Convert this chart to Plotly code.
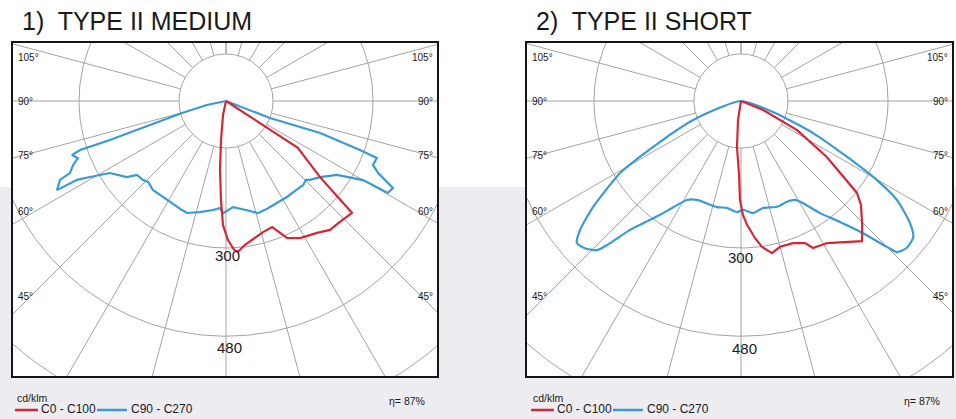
import numpy as np
import plotly.graph_objects as go

# ---------------- data: photometric curves (gamma = degrees from nadir, intensity in cd/klm) ----
medium_c0_gamma = [0, -12.1, -7.3, -5.0, -2.9, -1.4, 0.8, 3.1, 4.5, 7.5, 15.8, 20.1, 24.0, 28.4,
                   34.6, 38.9, 43.3, 48.4, 51.0, 56.9, 57.0]
medium_c0_cd = [0, 29, 80, 141, 202, 253, 284, 304, 309, 296, 278, 274, 306, 318,
                327, 338, 339, 344, 247, 175, 0]

medium_c90_gamma = [-90, -78.1, -74.7, -72.5, -71.4, -71.4, -70.7, -68.9, -67.3, -65.2, -64.6, -62.2,
                    -62.1, -60.8, -58.2, -52.5, -50.3, -46.4, -43.9, -39.4, -30.8, -22.0, -19.2,
                    -13.2, -6.8, -3.2, -1.5, 3.8, 10.9, 15.9, 21.4, 32.4, 40.7, 42.5, 45.4, 46.8,
                    51.0, 56.3, 60.0, 60.4, 62.5, 64.7, 66.5, 69.3, 69.9, 71.2, 68.9, 90]
medium_c90_cd = [0, 40, 93, 163, 250, 314, 333, 324, 338, 351, 375, 390,
                 344, 318, 279, 255, 236, 234, 229, 235, 235, 240, 242,
                 233, 224, 219, 229, 217, 227, 238, 235, 232, 232, 233, 229, 235,
                 247, 272, 323, 380, 384, 343, 327, 329, 291, 203, 96, 0]

short_c0_gamma = [0, -9.0, -5.0, -1.5, -0.6, 1.0, 2.8, 5.8, 8.2, 11.5, 15.0, 20.1, 24.3, 26.1,
                  31.2, 36.4, 40.8, 44.3, 49.1, 51.6, 56.9, 62.6, 67.8, 90]
short_c0_cd = [0, 39, 94, 151, 202, 233, 253, 281, 301, 317, 308, 309, 318, 334,
               339, 358, 378, 354, 324, 302, 209, 129, 49, 0]

short_c90_gamma = [-90, -68.4, -62.4, -59.2, -54.4, -51.3, -49.1, -46.7, -44.0, -42.9, -40.7, -35.4,
                   -28.6, -24.0, -12.8, -7.5, -2.1, 1.1, 6.1, 11.6, 18.8, 24.5, 28.6, 31.3, 35.2,
                   39.3, 42.7, 45.0, 45.9, 48.5, 51.7, 54.2, 57.6, 59.8, 62.2, 66.0, 71.0, 90]
short_c90_cd = [0, 105, 203, 287, 371, 421, 443, 438, 423, 401, 347, 285,
                230, 221, 222, 220, 227, 222, 230, 223, 228, 226, 230, 244, 280,
                319, 367, 421, 443, 452, 448, 425, 377, 321, 245, 161, 69, 0]

ring_cd = [300, 480, 660]          # intensity circles
hole_cd = 96                       # blank centre circle
spoke_angles = list(range(-180, 181, 15))
ring_labels = ["300", "480"]
angle_labels = ["105°", "90°", "75°", "60°", "45°"]
titles = ["1)  TYPE II MEDIUM", "2)  TYPE II SHORT"]
series_names = ["C0 - C100", "C90 - C270"]
unit_label = "cd/klm"
efficiency_label = "η= 87%"

# ---------------- layout geometry (pixels) ----------------
W, H = 956, 419
S = 0.49                      # px per cd/klm
Y0, Y1, CY = 43, 376, 101     # box top / bottom, luminaire centre
panels = [dict(x0=13, x1=437, cx=226, leg=15, shape="linear",
               c0=(medium_c0_gamma, medium_c0_cd), c90=(medium_c90_gamma, medium_c90_cd),
               ring_lab=[(227, 255), (229, 347)]),
          dict(x0=527, x1=952, cx=741, leg=531, shape="spline",
               c0=(short_c0_gamma, short_c0_cd), c90=(short_c90_gamma, short_c90_cd),
               ring_lab=[(740, 257), (744, 348)])]
label_y = [58, 101, 155, 212, 296]

RED = "#d22838"
BLUE = "#3a9ad3"
GRID = "#a3a3a3"
TXT = "#1a1a1a"
FONT = "Liberation Sans, Arial, sans-serif"


def px(x):
    return x / W


def py(y):
    return 1 - y / H


def to_xy(g, r):
    g = np.radians(np.asarray(g, float))
    r = np.asarray(r, float)
    return r * np.sin(g), -r * np.cos(g)


fig = go.Figure()
shapes = []
annotations = []

# background: white top, light grey lower band
shapes.append(dict(type="rect", xref="paper", yref="paper", x0=0, x1=1, y0=0, y1=py(187),
                   fillcolor="#ececf1", line=dict(width=0), layer="below"))

for i, p in enumerate(panels):
    xa = "x" if i == 0 else "x2"
    ya = "y" if i == 0 else "y2"
    # white plot area
    shapes.append(dict(type="rect", xref="paper", yref="paper", x0=px(p["x0"]), x1=px(p["x1"]),
                       y0=py(Y1), y1=py(Y0), fillcolor="white", line=dict(width=0), layer="below"))

    th = np.linspace(0, 2 * np.pi, 361)
    # circles
    gx, gy = [], []
    for rv in [hole_cd] + ring_cd:
        gx += list(rv * np.cos(th)) + [None]
        gy += list(rv * np.sin(th)) + [None]
    # spokes
    for a in spoke_angles:
        sx, sy = to_xy([a, a], [hole_cd, 1500])
        gx += list(sx) + [None]
        gy += list(sy) + [None]
    fig.add_trace(go.Scatter(x=gx, y=gy, mode="lines", line=dict(color=GRID, width=1),
                             xaxis=xa, yaxis=ya, hoverinfo="skip", showlegend=False))

    bx, by = to_xy(*p["c90"])
    fig.add_trace(go.Scatter(x=bx, y=by, mode="lines",
                             line=dict(color=BLUE, width=2.2, shape=p["shape"], smoothing=0.6),
                             xaxis=xa, yaxis=ya, name=series_names[1], showlegend=False))
    rx, ry = to_xy(*p["c0"])
    fig.add_trace(go.Scatter(x=rx, y=ry, mode="lines", line=dict(color=RED, width=2.2),
                             xaxis=xa, yaxis=ya, name=series_names[0], showlegend=False))

    axis_common = dict(showgrid=False, zeroline=False, showticklabels=False, ticks="",
                       showline=True, mirror=True, linecolor="#151515", linewidth=2,
                       fixedrange=True)
    fig.update_layout(**{
        ("xaxis" if i == 0 else "xaxis2"): dict(
            domain=[px(p["x0"]), px(p["x1"])],
            range=[(p["x0"] - p["cx"]) / S, (p["x1"] - p["cx"]) / S],
            anchor=ya, **axis_common),
        ("yaxis" if i == 0 else "yaxis2"): dict(
            domain=[py(Y1), py(Y0)],
            range=[-(Y1 - CY) / S, (CY - Y0) / S],
            anchor=xa, **axis_common),
    })

    # title
    annotations.append(dict(x=px(p["x0"] + 7), y=py(21), xref="paper", yref="paper",
                            text=titles[i], showarrow=False, xanchor="left", yanchor="middle",
                            font=dict(family=FONT, size=25, color=TXT)))
    # angle labels on both box edges
    for lab, yy in zip(angle_labels, label_y):
        annotations.append(dict(x=px(p["x0"] + 3), y=py(yy), xref="paper", yref="paper",
                                text=lab, showarrow=False, xanchor="left", yanchor="middle",
                                font=dict(family=FONT, size=10, color=TXT)))
        annotations.append(dict(x=px(p["x1"] - 2), y=py(yy), xref="paper", yref="paper",
                                text=lab, showarrow=False, xanchor="right", yanchor="middle",
                                font=dict(family=FONT, size=10, color=TXT)))
    # ring labels
    for lab, (lx, ly) in zip(ring_labels, p["ring_lab"]):
        annotations.append(dict(x=px(lx), y=py(ly), xref="paper", yref="paper", text=lab,
                                showarrow=False, xanchor="center", yanchor="middle",
                                font=dict(family=FONT, size=15, color=TXT)))
    # legend
    L = p["leg"]
    annotations.append(dict(x=px(L), y=py(398), xref="paper", yref="paper", text=unit_label,
                            showarrow=False, xanchor="left", yanchor="middle",
                            font=dict(family=FONT, size=10.5, color=TXT)))
    shapes.append(dict(type="line", xref="paper", yref="paper", x0=px(L), x1=px(L + 23),
                       y0=py(410), y1=py(410), line=dict(color=RED, width=2.5)))
    annotations.append(dict(x=px(L + 24), y=py(409), xref="paper", yref="paper",
                            text=series_names[0], showarrow=False, xanchor="left",
                            yanchor="middle", font=dict(family=FONT, size=12, color=TXT)))
    shapes.append(dict(type="line", xref="paper", yref="paper", x0=px(L + 82), x1=px(L + 112),
                       y0=py(410), y1=py(410), line=dict(color=BLUE, width=2.5)))
    annotations.append(dict(x=px(L + 114), y=py(409), xref="paper", yref="paper",
                            text=series_names[1], showarrow=False, xanchor="left",
                            yanchor="middle", font=dict(family=FONT, size=12, color=TXT)))
    annotations.append(dict(x=px(p["x1"] - 10), y=py(401), xref="paper", yref="paper",
                            text=efficiency_label, showarrow=False, xanchor="right",
                            yanchor="middle", font=dict(family=FONT, size=10.5, color=TXT)))

fig.update_layout(width=W, height=H, autosize=False,
                  margin=dict(l=0, r=0, t=0, b=0, pad=0),
                  paper_bgcolor="white", plot_bgcolor="rgba(0,0,0,0)",
                  shapes=shapes, annotations=annotations, showlegend=False)

fig.write_html("out.html", config={"displayModeBar": False, "staticPlot": True},
               post_script="document.body.style.margin='0';document.body.style.overflow='hidden';")
